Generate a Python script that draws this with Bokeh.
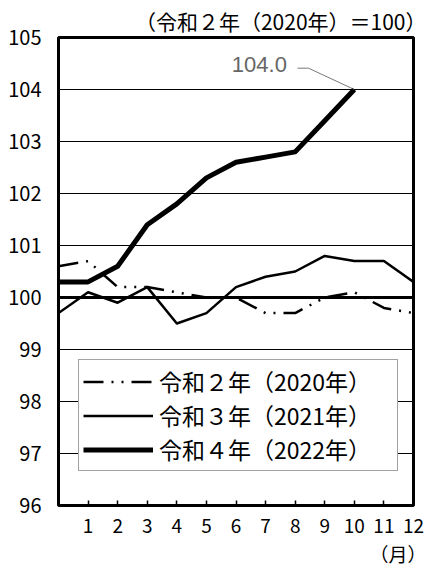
from bokeh.plotting import figure
from bokeh.models import (FixedTicker, Span, Label, Legend, LegendItem, Title)
from bokeh.embed import file_html
from bokeh.resources import INLINE

# ---- data ----
months = [0, 1, 2, 3, 4, 5, 6, 7, 8, 9, 10, 11, 12]
month_labels = ["1", "2", "3", "4", "5", "6", "7", "8", "9", "10", "11", "12"]
cpi_2020 = [100.6, 100.7, 100.2, 100.2, 100.1, 100.0, 100.0, 99.7, 99.7, 100.0, 100.1, 99.8, 99.7]
cpi_2021 = [99.7, 100.1, 99.9, 100.2, 99.5, 99.7, 100.2, 100.4, 100.5, 100.8, 100.7, 100.7, 100.3]
cpi_2022 = [100.3, 100.3, 100.6, 101.4, 101.8, 102.3, 102.6, 102.7, 102.8, 103.4, 104.0]
series_names = ["令和２年（2020年）", "令和３年（2021年）", "令和４年（2022年）"]
y_ticks = [96, 97, 98, 99, 100, 101, 102, 103, 104, 105]
base_value = 100
title_text = "（令和２年（2020年）＝100）"
unit_text = "（月）"

FONT = "Noto Sans CJK JP"

p = figure(width=428, height=570, x_range=(0, 12), y_range=(96, 105),
           output_backend="svg", toolbar_location=None,
           min_border_left=58, min_border_right=15, min_border_top=37,
           min_border_bottom=65)
p.background_fill_color = "white"
p.border_fill_color = "white"
p.outline_line_color = "black"
p.outline_line_width = 3

# title (unit note) above, right aligned
p.title.text = title_text
p.title.align = "right"
p.title.offset = -13
p.title.standoff = 3
p.title.text_font = FONT
p.title.text_font_size = "21px"
p.title.text_font_style = "normal"
p.title.text_color = "black"

# axes
p.xaxis.ticker = FixedTicker(ticks=months[1:])
p.xaxis.major_label_overrides = {m: lbl for m, lbl in zip(months[1:], month_labels)}
p.xaxis.axis_line_color = None
p.xaxis.major_tick_in = 5
p.xaxis.major_tick_out = 0
p.xaxis.major_tick_line_width = 1.5
p.xaxis.minor_tick_line_color = None
p.xaxis.major_label_standoff = 13
p.xaxis.major_label_text_font = FONT
p.xaxis.major_label_text_font_size = "19px"
p.xaxis.major_label_text_color = "black"

p.yaxis.ticker = FixedTicker(ticks=y_ticks)
p.yaxis.axis_line_color = None
p.yaxis.major_tick_in = 0
p.yaxis.major_tick_out = 0
p.yaxis.minor_tick_line_color = None
p.yaxis.major_label_standoff = 17
p.yaxis.major_label_text_font = FONT
p.yaxis.major_label_text_font_size = "20px"
p.yaxis.major_label_text_color = "black"

p.xgrid.grid_line_color = None
p.ygrid.ticker = FixedTicker(ticks=y_ticks)
p.ygrid.grid_line_color = "black"
p.ygrid.grid_line_width = 1

# unit of x axis, below, right aligned
p.add_layout(Title(text=unit_text, align="right", offset=-13, standoff=5,
                   text_font=FONT, text_font_size="19px",
                   text_font_style="normal", text_color="black"), "below")

# base line at 100
p.add_layout(Span(location=base_value, dimension="width", line_color="black",
                  line_width=3, level="underlay"))

# series
r20 = p.line(months, cpi_2020, line_color="black", line_width=2.5,
             line_dash="20 8 2 8 2 8", line_join="round")
r21 = p.line(months, cpi_2021, line_color="black", line_width=2.5, line_join="round")
r22 = p.line(months[:len(cpi_2022)], cpi_2022, line_color="black", line_width=5,
             line_join="round")

legend = Legend(items=[LegendItem(label=series_names[0], renderers=[r20]),
                       LegendItem(label=series_names[1], renderers=[r21]),
                       LegendItem(label=series_names[2], renderers=[r22])],
                location=(20, 34), orientation="vertical",
                label_text_font=FONT, label_text_font_size="23px",
                label_text_color="black",
                glyph_width=70, glyph_height=25, label_height=25,
                label_width=234,
                label_standoff=6, spacing=-5, padding=4, margin=0,
                border_line_color="#444444", border_line_width=1,
                background_fill_color="white", background_fill_alpha=1)
p.add_layout(legend, "center")

# annotation for last value
last_x = months[len(cpi_2022) - 1]
last_y = cpi_2022[-1]
p.line([last_x - 1.92, last_x - 1.55, last_x], [last_y + 0.41, last_y + 0.41, last_y],
       line_color="#555555", line_width=0.8)
p.add_layout(Label(x=last_x - 2.28, y=last_y + 0.49, text=f"{last_y:.1f}",
                   text_align="right", text_baseline="middle",
                   text_font="Liberation Sans", text_font_size="22px",
                   text_color="#666666"))

open("out.html", "w").write(file_html(p, INLINE))
